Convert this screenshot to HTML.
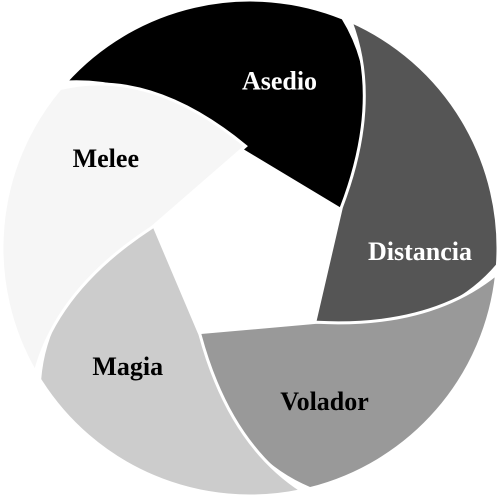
<!DOCTYPE html>
<html><head><meta charset="utf-8"><style>
html,body{margin:0;padding:0;background:#fff;}
svg{display:block;}
text{font-family:"Liberation Serif",serif;font-size:26px;font-weight:bold;}
</style></head><body>
<svg id="chart" width="500" height="497"></svg>
<script>
const categories=["Asedio","Distancia","Volador","Magia","Melee"];
const values=[1,1,1,1,1];
const fills=["#000000","#555555","#999999","#cccccc","#f6f6f6"];
const textColors=["#fff","#fff","#000","#000","#000"];
const labelAngle=[58,67,58,58,62];
const svg=document.getElementById('chart');
const NS='http://www.w3.org/2000/svg';
const cx=250,cy=248,R=248;
function pt(r,a){const t=a*Math.PI/180;return [(cx+r*Math.cos(t)).toFixed(1),(cy+r*Math.sin(t)).toFixed(1)];}
const total=values.reduce((a,b)=>a+b,0);
let start=-138;
categories.forEach((c,i)=>{
  const span=360*values[i]/total;
  const k=span/72;
  const p0=pt(R,start),p1=pt(R,start+70*k),c1=pt(207,start+91*k),t=pt(102,start+117.5*k),
        m=pt(100,start+42*k),c2=pt(197,start+18*k);
  const d=`M${p0} A${R} ${R} 0 0 1 ${p1} Q${c1} ${t} L${m} Q${c2} ${p0} Z`;
  const p=document.createElementNS(NS,'path');
  p.setAttribute('d',d);p.setAttribute('fill',fills[i]);
  p.setAttribute('stroke','#fff');p.setAttribute('stroke-width','3');
  
  
  svg.appendChild(p);
  const lp=pt(170,start+labelAngle[i]*k);
  const tx=document.createElementNS(NS,'text');
  tx.setAttribute('x',lp[0]);tx.setAttribute('y',(+lp[1]+9).toFixed(1));
  tx.setAttribute('text-anchor','middle');tx.setAttribute('fill',textColors[i]);
  
  
  tx.textContent=c;
  svg.appendChild(tx);
  start+=span;
});
</script>
</body></html>
